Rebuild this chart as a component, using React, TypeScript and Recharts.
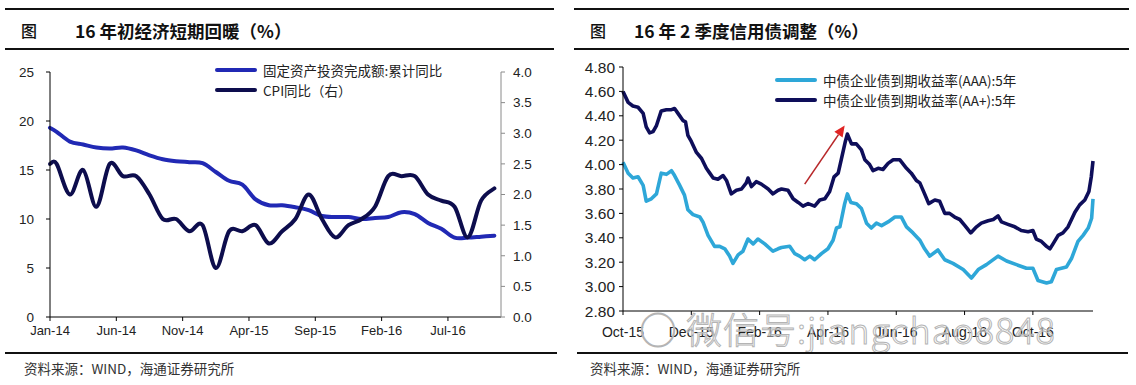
import { Legend, Line, LineChart, ReferenceLine, XAxis, YAxis } from "recharts";

// left chart: monthly, Dec-13 .. Oct-16
const leftMonths = [
  "Dec-13",
  "Jan-14", "Feb-14", "Mar-14", "Apr-14", "May-14", "Jun-14", "Jul-14", "Aug-14", "Sep-14", "Oct-14", "Nov-14", "Dec-14",
  "Jan-15", "Feb-15", "Mar-15", "Apr-15", "May-15", "Jun-15", "Jul-15", "Aug-15", "Sep-15", "Oct-15", "Nov-15", "Dec-15",
  "Jan-16", "Feb-16", "Mar-16", "Apr-16", "May-16", "Jun-16", "Jul-16", "Aug-16", "Sep-16", "Oct-16",
];
const faiYoy = [
  19.3, 18.9, 17.9, 17.6, 17.3, 17.2, 17.3, 17.0, 16.5, 16.1, 15.9, 15.8, 15.7,
  14.8, 13.9, 13.5, 12.0, 11.4, 11.4, 11.2, 10.9, 10.3, 10.2, 10.2, 10.0,
  10.1, 10.2, 10.7, 10.5, 9.6, 9.0, 8.1, 8.1, 8.2, 8.3,
];
const cpiYoy = [
  2.5, 2.5, 2.0, 2.4, 1.8, 2.5, 2.3, 2.3, 2.0, 1.6, 1.6, 1.4, 1.5,
  0.8, 1.4, 1.4, 1.5, 1.2, 1.4, 1.6, 2.0, 1.6, 1.3, 1.5, 1.6,
  1.8, 2.3, 2.3, 2.3, 2.0, 1.9, 1.8, 1.3, 1.9, 2.1,
];
const leftTicks = [0, 5, 10, 15, 20, 25, 30];
const leftTickLabels = ["Jan-14", "Jun-14", "Nov-14", "Apr-15", "Sep-15", "Feb-16", "Jul-16"];
const leftNames = ["固定资产投资完成额:累计同比", "CPI同比（右）"];

// right chart: months since Oct-15
const aapPos = [
  0, 0.15, 0.29, 0.44, 0.59, 0.68, 0.78, 0.88, 0.98, 1.12, 1.27, 1.42, 1.51, 1.61, 1.76, 1.83, 1.9, 2.0,
  2.15, 2.3, 2.44, 2.54, 2.64, 2.78, 2.93, 3.03, 3.17, 3.32, 3.47, 3.61, 3.66, 3.76, 3.9, 4.05, 4.25, 4.39,
  4.54, 4.64, 4.83, 4.98, 5.13, 5.27, 5.42, 5.61, 5.76, 5.91, 6.05, 6.18, 6.3, 6.39, 6.51, 6.57, 6.69, 6.83,
  6.98, 7.08, 7.22, 7.32, 7.47, 7.61, 7.76, 7.91, 8.1, 8.3, 8.44, 8.59, 8.69, 8.83, 8.95, 9.13, 9.27, 9.42,
  9.56, 9.71, 9.86, 10.01, 10.18, 10.35, 10.49, 10.69, 10.84, 10.98, 11.08, 11.27, 11.47, 11.66, 11.86, 12.0,
  12.1, 12.25, 12.4, 12.5, 12.59, 12.74, 12.88, 13.03, 13.23, 13.37, 13.52, 13.64, 13.71, 13.76,
];
const aapYield = [
  4.6, 4.51, 4.48, 4.47, 4.42, 4.31, 4.26, 4.27, 4.32, 4.44, 4.45, 4.45, 4.46, 4.42, 4.36, 4.35, 4.24, 4.19,
  4.1, 4.05, 3.97, 3.93, 3.89, 3.88, 3.91, 3.87, 3.76, 3.79, 3.8, 3.85, 3.89, 3.82, 3.86, 3.84, 3.8, 3.76,
  3.79, 3.8, 3.79, 3.72, 3.69, 3.66, 3.68, 3.66, 3.71, 3.72, 3.78, 3.9, 3.93, 4.04, 4.19, 4.25, 4.17, 4.17,
  4.12, 4.04, 4.0, 3.95, 3.97, 3.96, 4.01, 4.04, 4.04, 3.97, 3.93, 3.87, 3.85, 3.76, 3.68, 3.71, 3.7, 3.6,
  3.6, 3.57, 3.55, 3.5, 3.44, 3.49, 3.52, 3.54, 3.55, 3.58, 3.53, 3.51, 3.49, 3.46, 3.45, 3.46,
  3.39, 3.37, 3.33, 3.31, 3.35, 3.42, 3.44, 3.49, 3.61, 3.67, 3.71, 3.78, 3.9, 4.03,
];
const aaaPos = [
  0, 0.15, 0.29, 0.44, 0.59, 0.68, 0.83, 0.98, 1.12, 1.27, 1.42, 1.51, 1.66, 1.8, 1.9, 2.05, 2.25, 2.34,
  2.49, 2.68, 2.83, 2.98, 3.12, 3.22, 3.37, 3.51, 3.66, 3.81, 3.95, 4.15, 4.39, 4.54, 4.64, 4.88, 5.03, 5.17,
  5.32, 5.47, 5.61, 5.81, 6.0, 6.15, 6.25, 6.35, 6.49, 6.57, 6.67, 6.83, 6.98, 7.13, 7.27, 7.42, 7.57, 7.76,
  7.96, 8.15, 8.3, 8.49, 8.69, 8.83, 8.98, 9.22, 9.42, 9.66, 9.96, 10.2, 10.4, 10.64, 10.98, 11.23, 11.52,
  11.81, 12.0, 12.15, 12.4, 12.54, 12.69, 12.98, 13.13, 13.32, 13.47, 13.62, 13.72, 13.76,
];
const aaaYield = [
  4.02, 3.93, 3.89, 3.9, 3.83, 3.7, 3.72, 3.76, 3.93, 3.92, 3.95, 3.91, 3.83, 3.75, 3.63, 3.59, 3.57, 3.53,
  3.42, 3.33, 3.33, 3.31, 3.25, 3.19, 3.26, 3.29, 3.39, 3.35, 3.39, 3.35, 3.29, 3.31, 3.32, 3.33, 3.27, 3.25,
  3.22, 3.25, 3.22, 3.27, 3.31, 3.38, 3.48, 3.49, 3.68, 3.76, 3.69, 3.68, 3.64, 3.52, 3.48, 3.52, 3.5, 3.53,
  3.57, 3.57, 3.49, 3.44, 3.38, 3.31, 3.25, 3.3, 3.22, 3.19, 3.14, 3.07, 3.14, 3.18, 3.25, 3.21, 3.18,
  3.15, 3.15, 3.05, 3.03, 3.04, 3.14, 3.16, 3.23, 3.37, 3.42, 3.48, 3.56, 3.72,
];
const rightTicks = [0, 2, 4, 6, 8, 10, 12];
const rightTickLabels = ["Oct-15", "Dec-15", "Feb-16", "Apr-16", "Jun-16", "Aug-16", "Oct-16"];
const rightNames = ["中债企业债到期收益率(AAA):5年", "中债企业债到期收益率(AA+):5年"];
const arrowFrom = { x: 5.32, y: 3.84 };
const arrowTo = { x: 6.49, y: 4.32 };

const leftData = leftMonths.map((m, i) => ({ month: m, t: i === 0 ? 0 : i - 0.5, fai: faiYoy[i], cpi: cpiYoy[i] }));
const aapData = aapPos.map((t, i) => ({ t, v: aapYield[i] }));
const aaaData = aaaPos.map((t, i) => ({ t, v: aaaYield[i] }));

const SANS = '"Liberation Sans", Arial, sans-serif';
const CJK = '"Noto Sans CJK SC", "Liberation Sans", sans-serif';

// Excel-style smoothed line (Catmull-Rom through the points)
function smoothCurve(context: any) {
  let pts: number[][] = [];
  return {
    areaStart() {},
    areaEnd() {},
    lineStart() {
      pts = [];
    },
    point(x: number, y: number) {
      pts.push([+x, +y]);
    },
    lineEnd() {
      if (!pts.length) return;
      context.moveTo(pts[0][0], pts[0][1]);
      for (let i = 0; i < pts.length - 1; i++) {
        const p0 = pts[i - 1] || pts[i];
        const p1 = pts[i];
        const p2 = pts[i + 1];
        const p3 = pts[i + 2] || p2;
        context.bezierCurveTo(
          p1[0] + (p2[0] - p0[0]) / 6,
          p1[1] + (p2[1] - p0[1]) / 6,
          p2[0] - (p3[0] - p1[0]) / 6,
          p2[1] - (p3[1] - p1[1]) / 6,
          p2[0],
          p2[1],
        );
      }
    },
  };
}

function LegendBox({ payload, order }: any) {
  const items = order.map((name: string) => (payload || []).find((p: any) => p.value === name)).filter(Boolean);
  return (
    <div style={{ fontFamily: CJK, fontSize: 13.5, color: "#222" }}>
      {items.map((p: any) => (
        <div key={p.value} style={{ display: "flex", alignItems: "center", height: 20 }}>
          <span style={{ width: 42, height: 4, background: p.color, borderRadius: 2, marginRight: 6 }} />
          <span>{p.value}</span>
        </div>
      ))}
    </div>
  );
}

function Arrow(props: any) {
  const { x1, y1, x2, y2 } = props;
  const a = Math.atan2(y2 - y1, x2 - x1);
  const L = 11;
  const W = 5;
  const bx = x2 - L * Math.cos(a);
  const by = y2 - L * Math.sin(a);
  const px = -Math.sin(a) * W;
  const py = Math.cos(a) * W;
  return (
    <g>
      <line x1={x1} y1={y1} x2={bx} y2={by} stroke="#b8282a" strokeWidth={1.6} />
      <polygon points={`${x2},${y2} ${bx + px},${by + py} ${bx - px},${by - py}`} fill="#e02424" />
    </g>
  );
}

function Rule({ left, top, width }: { left: number; top: number; width: number }) {
  return <div style={{ position: "absolute", left, top, width, height: 1.5, background: "#111" }} />;
}

function Title({ left, gap, text }: { left: number; gap: number; text: string }) {
  return (
    <div style={{ position: "absolute", left, top: 17, height: 26, display: "flex", alignItems: "center", fontFamily: CJK, color: "#111" }}>
      <span style={{ fontSize: 16, fontWeight: 500, width: gap }}>图</span>
      <span style={{ fontSize: 17.5, fontWeight: 700 }}>{text}</span>
    </div>
  );
}

function Source({ left }: { left: number }) {
  return (
    <div style={{ position: "absolute", left, top: 358, fontFamily: CJK, fontSize: 13.5, color: "#333" }}>
      资料来源：WIND，海通证券研究所
    </div>
  );
}

export default function App() {
  const axisTick = { fontSize: 13, fill: "#222", fontFamily: SANS };
  return (
    <div style={{ position: "absolute", left: 0, top: 0, width: 1136, height: 385, background: "#fff", overflow: "hidden" }}>
      <Rule left={5} top={8} width={549} />
      <Rule left={5} top={48} width={549} />
      <Rule left={574} top={8} width={555} />
      <Rule left={574} top={48} width={555} />
      <Title left={21} gap={54} text="16 年初经济短期回暖（%）" />
      <Title left={590} gap={44} text="16 年 2 季度信用债调整（%）" />

      <div style={{ position: "absolute", left: 0, top: 0 }}>
        <LineChart width={556} height={345} data={leftData} margin={{ top: 72, right: 10, bottom: 3, left: 10 }}>
          <XAxis
            dataKey="t"
            type="number"
            domain={[0, 34]}
            ticks={leftTicks}
            tickFormatter={(v: number) => leftTickLabels[leftTicks.indexOf(v)] ?? ""}
            tick={axisTick}
            height={25}
            tickSize={4}
            tickMargin={5}
            axisLine={{ stroke: "#000" }}
            tickLine={{ stroke: "#000" }}
          />
          <YAxis
            yAxisId="l"
            domain={[0, 25]}
            ticks={[0, 5, 10, 15, 20, 25]}
            width={40}
            tick={{ ...axisTick, fontSize: 13.5 }}
            tickSize={4}
            tickMargin={12}
            axisLine={{ stroke: "#000" }}
            tickLine={{ stroke: "#000" }}
          />
          <YAxis
            yAxisId="r"
            orientation="right"
            domain={[0, 4]}
            ticks={[0, 0.5, 1, 1.5, 2, 2.5, 3, 3.5, 4]}
            tickFormatter={(v: number) => v.toFixed(1)}
            width={45}
            tick={{ ...axisTick, fontSize: 13.5 }}
            tickSize={4}
            tickMargin={8}
            axisLine={{ stroke: "#8a8a8a" }}
            tickLine={{ stroke: "#8a8a8a" }}
          />
          <Line yAxisId="l" type={smoothCurve as any} dataKey="fai" name={leftNames[0]} stroke="#2129b4" strokeWidth={4} dot={false} isAnimationActive={false} strokeLinecap="round" />
          <Line yAxisId="r" type={smoothCurve as any} dataKey="cpi" name={leftNames[1]} stroke="#0d0d4d" strokeWidth={4} dot={false} isAnimationActive={false} strokeLinecap="round" />
          <Legend
            layout="vertical"
            align="center"
            verticalAlign="middle"
            content={(p: any) => <LegendBox {...p} order={leftNames} />}
            wrapperStyle={{ left: 215, top: 60, width: 300 }}
          />
        </LineChart>
      </div>

      <div style={{ position: "absolute", left: 560, top: 0 }}>
        <LineChart width={576} height={345} margin={{ top: 67, right: 43, bottom: 4, left: 8 }}>
          <XAxis
            dataKey="t"
            type="number"
            domain={[0, 13.76]}
            ticks={rightTicks}
            tickFormatter={(v: number) => rightTickLabels[rightTicks.indexOf(v)] ?? ""}
            tick={{ ...axisTick, fontSize: 14 }}
            height={30}
            tickSize={4}
            tickMargin={12}
            axisLine={{ stroke: "#000" }}
            tickLine={{ stroke: "#000" }}
            allowDuplicatedCategory={false}
          />
          <YAxis
            domain={[2.8, 4.8]}
            ticks={[2.8, 3.0, 3.2, 3.4, 3.6, 3.8, 4.0, 4.2, 4.4, 4.6, 4.8]}
            tickFormatter={(v: number) => v.toFixed(2)}
            width={55}
            tick={{ ...axisTick, fontSize: 15.5 }}
            tickSize={4}
            tickMargin={4}
            axisLine={{ stroke: "#000" }}
            tickLine={{ stroke: "#000" }}
          />
          <Line data={aaaData} type="linear" dataKey="v" name={rightNames[0]} stroke="#2ea7d8" strokeWidth={3.6} dot={false} isAnimationActive={false} strokeLinejoin="round" />
          <Line data={aapData} type="linear" dataKey="v" name={rightNames[1]} stroke="#0e0e5a" strokeWidth={3.6} dot={false} isAnimationActive={false} strokeLinejoin="round" />
          <ReferenceLine segment={[arrowFrom, arrowTo]} shape={Arrow} ifOverflow="visible" />
          <Legend
            layout="vertical"
            align="center"
            verticalAlign="middle"
            content={(p: any) => <LegendBox {...p} order={rightNames} />}
            wrapperStyle={{ left: 215, top: 70, width: 330 }}
          />
        </LineChart>
      </div>

      <div
        style={{
          position: "absolute",
          left: 640,
          top: 302,
          fontFamily: '"Noto Sans CJK SC", "Open Sans", sans-serif',
          fontSize: 36,
          fontWeight: 300,
          color: "rgba(255,255,255,0.35)",
          WebkitTextStroke: "1px #b4b4b4",
          whiteSpace: "nowrap",
          letterSpacing: 1,
        }}
      >
        ◯ 微信号:jiangchao8848
      </div>

      <Rule left={5} top={352} width={552} />
      <Rule left={577} top={352} width={551} />
      <Source left={24} />
      <Source left={590} />
    </div>
  );
}
